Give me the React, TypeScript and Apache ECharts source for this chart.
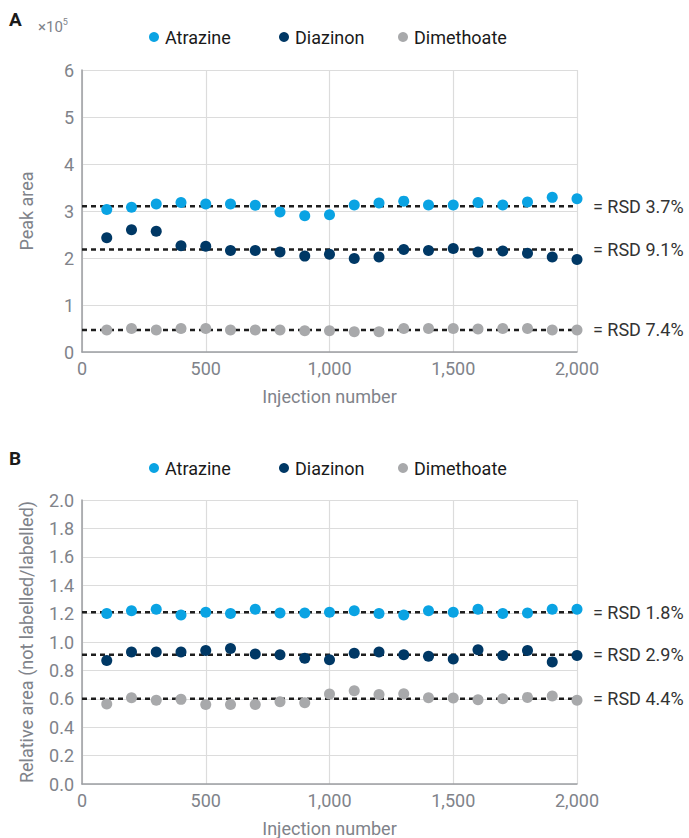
import React, { useEffect, useRef } from "react";
import * as echarts from "echarts";

const injections = [100, 200, 300, 400, 500, 600, 700, 800, 900, 1000, 1100, 1200, 1300, 1400, 1500, 1600, 1700, 1800, 1900, 2000];

// Panel A: peak area (x10^5)
const atrazineA = [3.03, 3.08, 3.15, 3.18, 3.15, 3.15, 3.12, 2.98, 2.9, 2.92, 3.13, 3.17, 3.21, 3.13, 3.13, 3.18, 3.13, 3.19, 3.29, 3.26];
const diazinonA = [2.43, 2.6, 2.57, 2.26, 2.25, 2.16, 2.16, 2.13, 2.04, 2.08, 1.99, 2.02, 2.18, 2.16, 2.2, 2.13, 2.15, 2.1, 2.02, 1.97];
const dimethoateA = [0.47, 0.5, 0.47, 0.5, 0.5, 0.47, 0.47, 0.47, 0.45, 0.45, 0.43, 0.43, 0.5, 0.5, 0.5, 0.49, 0.5, 0.5, 0.47, 0.47];
const meanA = [3.1, 2.18, 0.47];
const rsdA = ["3.7%", "9.1%", "7.4%"];

// Panel B: relative area (not labelled/labelled)
const atrazineB = [1.2, 1.22, 1.23, 1.19, 1.21, 1.2, 1.23, 1.205, 1.205, 1.21, 1.22, 1.2, 1.19, 1.22, 1.21, 1.23, 1.2, 1.205, 1.23, 1.23];
const diazinonB = [0.87, 0.93, 0.93, 0.93, 0.94, 0.955, 0.915, 0.91, 0.885, 0.875, 0.92, 0.93, 0.91, 0.9, 0.88, 0.945, 0.905, 0.94, 0.86, 0.905];
const dimethoateB = [0.563, 0.607, 0.59, 0.596, 0.56, 0.56, 0.56, 0.58, 0.573, 0.633, 0.656, 0.63, 0.635, 0.607, 0.605, 0.593, 0.6, 0.61, 0.62, 0.59];
const meanB = [1.21, 0.91, 0.6];
const rsdB = ["1.8%", "2.9%", "4.4%"];

const names = ["Atrazine", "Diazinon", "Dimethoate"];
const colors = ["#0aa3e3", "#003865", "#a8a9ab"];
const xTicks = { min: 0, max: 2000, interval: 500 };

const FONT = "Roboto";
const FS = 18;
const axisGrey = "#80838a";

function pairs(vals: number[]) {
  return injections.map((x, i) => [x, vals[i]]);
}

export default function App() {
  const ref = useRef<HTMLDivElement>(null);
  useEffect(() => {
    if (!ref.current) return;
    const chart = echarts.init(ref.current, undefined, { renderer: "svg" });

    const makeX = (gi: number) => ({
      type: "value",
      gridIndex: gi,
      min: xTicks.min,
      max: xTicks.max,
      interval: xTicks.interval,
      name: "Injection number",
      nameLocation: "middle",
      nameGap: 35,
      nameTextStyle: { color: axisGrey, fontSize: FS, fontFamily: FONT },
      axisLine: { show: true, lineStyle: { color: "#9c9ea2", width: 1.5 } },
      axisTick: { show: false },
      axisLabel: {
        color: axisGrey,
        fontSize: FS,
        fontFamily: FONT,
        margin: 7,
        formatter: (v: number) => v.toLocaleString("en-US"),
      },
      splitLine: { show: true, lineStyle: { color: "#dcdcdc", width: 1.2 } },
    });

    const makeY = (gi: number, max: number, interval: number, name: string, dec: number) => ({
      type: "value",
      gridIndex: gi,
      min: 0,
      max,
      interval,
      name,
      nameLocation: "middle",
      nameGap: 47,
      nameTextStyle: { color: axisGrey, fontSize: FS, fontFamily: FONT },
      axisLine: { show: true, lineStyle: { color: "#9c9ea2", width: 1.5 } },
      axisTick: { show: false },
      axisLabel: {
        color: axisGrey,
        fontSize: FS,
        fontFamily: FONT,
        margin: 8,
        formatter: (v: number) => v.toFixed(dec),
      },
      splitLine: { show: true, lineStyle: { color: "#dcdcdc", width: 1.2 } },
    });

    const series: any[] = [];
    const panels = [
      { gi: 0, data: [atrazineA, diazinonA, dimethoateA], mean: meanA, rsd: rsdA },
      { gi: 1, data: [atrazineB, diazinonB, dimethoateB], mean: meanB, rsd: rsdB },
    ];
    panels.forEach((p) => {
      p.mean.forEach((m, i) => {
        series.push({
          type: "line",
          xAxisIndex: p.gi,
          yAxisIndex: p.gi,
          data: [[xTicks.min, m], [xTicks.max, m]],
          symbol: "none",
          silent: true,
          z: 1,
          lineStyle: { color: "#1e1e1e", width: 2.5, type: [5, 4] },
          endLabel: {
            show: true,
            formatter: "= RSD " + p.rsd[i],
            color: "#333333",
            fontSize: FS,
            fontFamily: FONT,
            distance: 16,
          },
        });
      });
      p.data.forEach((vals, i) => {
        series.push({
          type: "scatter",
          name: names[i],
          xAxisIndex: p.gi,
          yAxisIndex: p.gi,
          data: pairs(vals),
          symbol: "circle",
          symbolSize: 11,
          z: 3,
          itemStyle: { color: colors[i], opacity: 1 },
        });
      });
    });

    const legendLefts = [144, 274, 393];
    const legendTops = [23, 454];
    const legends: any[] = [];
    legendTops.forEach((top) => {
      names.forEach((n, i) => {
        legends.push({
          left: legendLefts[i],
          top,
          itemWidth: 12,
          itemHeight: 10,
          icon: "circle",
          data: [n],
          textStyle: { color: "#1a1a1a", fontSize: FS, fontFamily: FONT },
        });
      });
    });

    chart.setOption({
      animation: false,
      textStyle: { fontFamily: FONT },
      grid: [
        { left: 82, top: 70, width: 495, height: 282 },
        { left: 82, top: 500, width: 495, height: 284 },
      ],
      xAxis: [makeX(0), makeX(1)],
      yAxis: [
        makeY(0, 6, 1, "Peak area", 0),
        makeY(1, 2, 0.2, "Relative area (not labelled/labelled)", 1),
      ],
      legend: legends,
      graphic: [
        {
          type: "text",
          left: 9,
          top: 10,
          style: { text: "A", fontSize: 19, fontWeight: "bold", fill: "#1a1a1a", fontFamily: FONT },
        },
        {
          type: "text",
          left: 9,
          top: 449,
          style: { text: "B", fontSize: 19, fontWeight: "bold", fill: "#1a1a1a", fontFamily: FONT },
        },
        {
          type: "text",
          left: 38,
          top: 17,
          style: {
            text: "{a|×10}{b|5}",
            rich: {
              a: { fontSize: 15, fill: axisGrey, fontFamily: FONT, verticalAlign: "bottom" },
              b: { fontSize: 9, fill: axisGrey, fontFamily: FONT, verticalAlign: "top", padding: [0, 0, 8, 0] },
            },
          },
        },
      ],
      series,
    });

    return () => chart.dispose();
  }, []);

  return (
    <div
      ref={ref}
      style={{ position: "absolute", left: 0, top: 0, width: 689, height: 838 }}
    />
  );
}
